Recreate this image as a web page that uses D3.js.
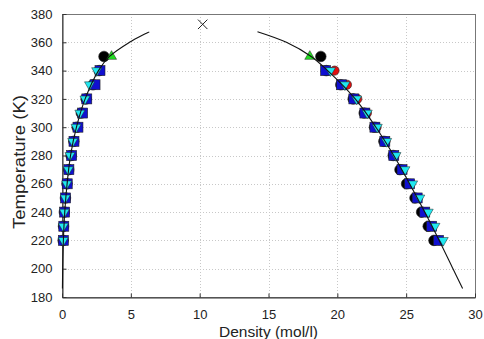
<!DOCTYPE html>
<html>
<head>
<meta charset="utf-8">
<script src="https://cdn.jsdelivr.net/npm/d3@7"></script>
<style>
  body { margin: 0; background: #fff; }
  svg { display: block; font-family: 'Liberation Sans', Arial, sans-serif; }
</style>
</head>
<body>
<svg id="chart" width="484" height="339"></svg>
<script>
'use strict'

// saturation temperatures (K) of the data points
var temps = [220, 230, 240, 250, 260, 270, 280, 290, 300, 310, 320, 330, 340]
var tempsBlack = [220, 230, 240, 250, 260, 270, 280, 290, 300, 310, 320, 330, 340, 350]

// liquid side densities (mol/l)
var blackLiq = [27.02, 26.6, 26.12, 25.64, 25.03, 24.55, 24.06, 23.38, 22.7, 21.95, 21.15, 20.25, 19.2, 18.8]
var redLiq = [27.4, 26.9, 26.4, 25.85, 25.3, 24.75, 24.15, 23.5, 22.85, 22.15, 21.45, 20.7, 19.8]
var blueLiq = [27.35, 26.85, 26.35, 25.8, 25.25, 24.7, 24.1, 23.45, 22.73, 22.0, 21.2, 20.3, 19.15]
var cyanLiq = [27.69, 27.09, 26.6, 25.99, 25.47, 24.91, 24.26, 23.58, 22.9, 22.17, 21.4, 20.55, 19.5]

// vapour side densities (mol/l)
var blackVap = [0.08, 0.11, 0.17, 0.25, 0.36, 0.49, 0.66, 0.86, 1.1, 1.4, 1.75, 2.25, 2.7, 3.05]
var redVap = [0.09, 0.12, 0.18, 0.25, 0.37, 0.49, 0.68, 0.86, 1.13, 1.45, 1.78, 2.35, 2.72]
var blueVap = [0.1, 0.13, 0.19, 0.26, 0.38, 0.5, 0.7, 0.87, 1.16, 1.5, 1.8, 2.4, 2.76]
var cyanVap = [0.09, 0.1, 0.17, 0.24, 0.34, 0.46, 0.58, 0.78, 1.02, 1.3, 1.67, 2.0, 2.52]

// single green points at 350 K
var greenT = [350, 350]
var greenRho = [3.6, 18.0]

// critical point
var critRho = [10.22]
var critT = [372.7]

// saturation curves
var curveT = [186, 200, 220, 240, 260, 280, 300, 320, 340, 350, 360, 367.5]
var curveLiq = [29.1, 28.4, 27.4, 26.35, 25.25, 24.1, 22.8, 21.3, 19.3, 18.1, 16.3, 14.2]
var curveVap = [0.03, 0.05, 0.1, 0.2, 0.37, 0.62, 1.05, 1.68, 2.65, 3.45, 4.9, 6.34]

var xTicks = [0, 5, 10, 15, 20, 25, 30]
var yTicks = [180, 200, 220, 240, 260, 280, 300, 320, 340, 360, 380]

var svg = d3.select('#chart')
var m = { left: 62, right: 475, top: 14, bottom: 297 }

var x = d3.scaleLinear().domain([0, 30]).range([m.left, m.right])
var y = d3.scaleLinear().domain([180, 380]).range([m.bottom, m.top])

// grid
var grid = svg.append('g')
  .attr('stroke', '#c8c8c8')
  .attr('stroke-width', 1)
  .attr('stroke-dasharray', '1,2')
grid.selectAll('line.gx')
  .data(xTicks.slice(1, -1))
  .enter().append('line')
    .attr('x1', (d) => Math.round(x(d)) + 0.5)
    .attr('x2', (d) => Math.round(x(d)) + 0.5)
    .attr('y1', m.top)
    .attr('y2', m.bottom)
grid.selectAll('line.gy')
  .data(yTicks.slice(1, -1))
  .enter().append('line')
    .attr('y1', (d) => Math.round(y(d)) + 0.5)
    .attr('y2', (d) => Math.round(y(d)) + 0.5)
    .attr('x1', m.left)
    .attr('x2', m.right)

// box
svg.append('rect')
  .attr('x', m.left + 0.5)
  .attr('y', m.top + 0.5)
  .attr('width', m.right - m.left)
  .attr('height', m.bottom - m.top)
  .attr('fill', 'none')
  .attr('stroke', '#777')

// axes, ticks pointing inwards
var xAxis = svg.append('g')
  .attr('transform', 'translate(0,' + (m.bottom + 0.5) + ')')
  .call(d3.axisBottom(x).tickValues(xTicks).tickSizeInner(-4).tickSizeOuter(0).tickPadding(12))
var yAxis = svg.append('g')
  .attr('transform', 'translate(' + (m.left + 0.5) + ',0)')
  .call(d3.axisLeft(y).tickValues(yTicks).tickSizeInner(-4).tickSizeOuter(0).tickPadding(10))

;[xAxis, yAxis].forEach((g) => {
  g.select('.domain').attr('stroke', '#333')
  g.selectAll('.tick line').attr('stroke', '#333')
  g.selectAll('.tick text')
    .attr('fill', '#222')
    .style('font-size', '13px')
    .style('font-family', "'Liberation Sans', Arial, sans-serif")
})

// axis titles
svg.append('text')
  .attr('x', (m.left + m.right) / 2)
  .attr('y', 337)
  .attr('text-anchor', 'middle')
  .attr('fill', '#222')
  .style('font-size', '15.5px')
  .text('Density (mol/l)')

svg.append('text')
  .attr('transform', 'translate(25,162) rotate(-90)')
  .attr('text-anchor', 'middle')
  .attr('fill', '#222')
  .attr('textLength', 134)
  .attr('lengthAdjust', 'spacingAndGlyphs')
  .style('font-size', '16.5px')
  .text('Temperature (K)')

var plot = svg.append('g')

function zip (xs, ts) {
  return xs.map((v, i) => [v, ts[i]])
}

// markers
function circles (data, r, fill) {
  plot.append('g').selectAll('circle')
    .data(data)
    .enter().append('circle')
      .attr('cx', (d) => x(d[0]))
      .attr('cy', (d) => y(d[1]))
      .attr('r', r)
      .attr('fill', fill)
      .attr('stroke', '#222')
      .attr('stroke-width', 0.6)
}

circles(zip(blackLiq, tempsBlack).concat(zip(blackVap, tempsBlack)), 5.3, '#000')
circles(zip(redLiq, temps).concat(zip(redVap, temps)), 4.6, '#e01010')

plot.append('g').selectAll('rect')
  .data(zip(blueLiq, temps).concat(zip(blueVap, temps)))
  .enter().append('rect')
    .attr('x', (d) => x(d[0]) - 5)
    .attr('y', (d) => y(d[1]) - 5)
    .attr('width', 10)
    .attr('height', 10)
    .attr('fill', '#1010d0')
    .attr('stroke', '#222')
    .attr('stroke-width', 0.6)

var tri = d3.symbol().type(d3.symbolTriangle).size(44)
plot.append('g').selectAll('path')
  .data(zip(cyanLiq, temps).concat(zip(cyanVap, temps)))
  .enter().append('path')
    .attr('d', tri)
    .attr('transform', (d) => 'translate(' + x(d[0]) + ',' + y(d[1]) + ') rotate(180)')
    .attr('fill', '#20e8f0')
    .attr('stroke', '#222')
    .attr('stroke-width', 0.5)

plot.append('g').selectAll('path')
  .data(zip(greenRho, greenT))
  .enter().append('path')
    .attr('d', tri)
    .attr('transform', (d) => 'translate(' + x(d[0]) + ',' + y(d[1]) + ')')
    .attr('fill', '#22dd22')
    .attr('stroke', '#222')
    .attr('stroke-width', 0.5)

// saturation curves
var line = d3.line()
  .x((d) => x(d[0]))
  .y((d) => y(d[1]))
  .curve(d3.curveCatmullRom)

plot.append('path')
  .datum(zip(curveVap, curveT))
  .attr('d', line)
  .attr('fill', 'none')
  .attr('stroke', '#111')
  .attr('stroke-width', 1.1)
plot.append('path')
  .datum(zip(curveLiq, curveT))
  .attr('d', line)
  .attr('fill', 'none')
  .attr('stroke', '#111')
  .attr('stroke-width', 1.1)

// critical point
plot.selectAll('path.crit')
  .data(zip(critRho, critT))
  .enter().append('path')
    .attr('d', d3.symbol().type(d3.symbolTimes).size(60))
    .attr('transform', (d) => 'translate(' + x(d[0]) + ',' + y(d[1]) + ')')
    .attr('fill', 'none')
    .attr('stroke', '#222')
    .attr('stroke-width', 1)
</script>
</body>
</html>
